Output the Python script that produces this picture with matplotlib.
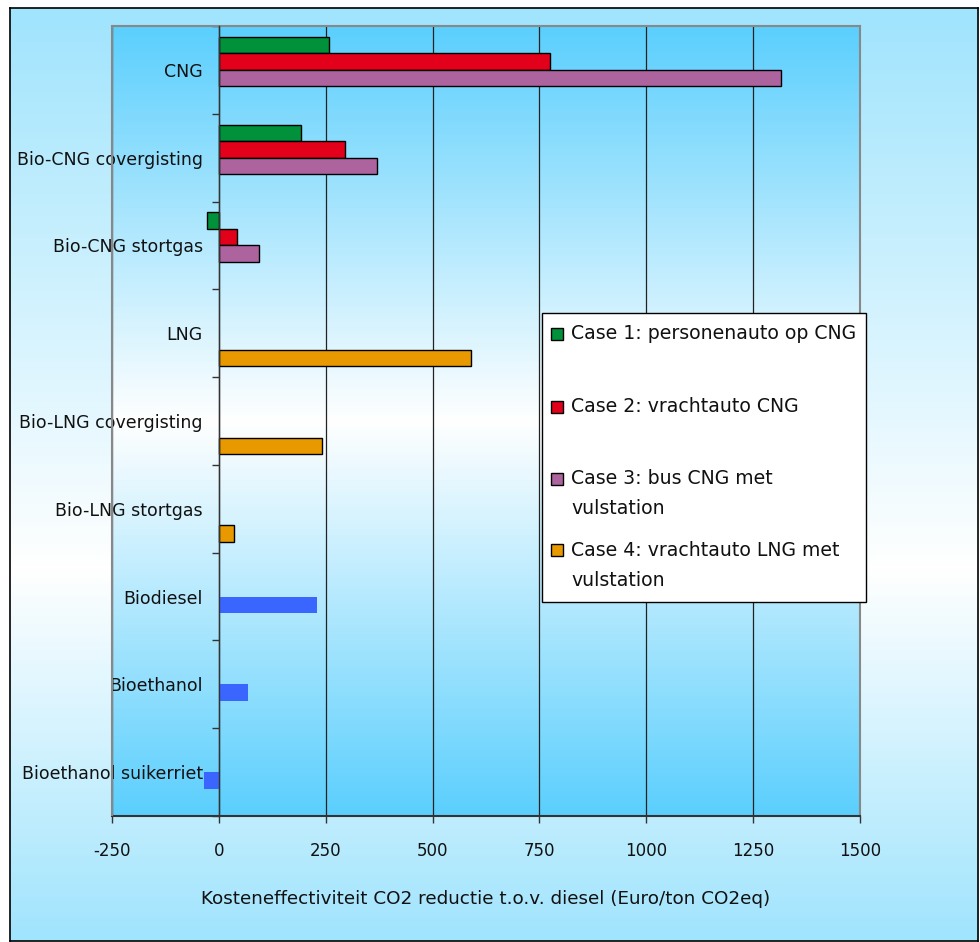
import numpy as np
import matplotlib
matplotlib.use("Agg")
import matplotlib.pyplot as plt
from matplotlib.colors import LinearSegmentedColormap
from matplotlib.patches import Rectangle

plt.rcParams['font.family'] = ['DejaVu Sans']

# ---- data -------------------------------------------------------------
categories = ["CNG", "Bio-CNG covergisting", "Bio-CNG stortgas", "LNG",
              "Bio-LNG covergisting", "Bio-LNG stortgas", "Biodiesel",
              "Bioethanol", "Bioethanol suikerriet"]
nan = np.nan
case1 = [258, 192, -27, nan, nan, nan, nan, nan, nan]
case2 = [775, 295, 43, nan, nan, nan, nan, nan, nan]
case3 = [1316, 369, 93, nan, nan, nan, nan, nan, nan]
case4 = [nan, nan, nan, 591, 241, 36, nan, nan, nan]
biobrandstof = [nan, nan, nan, nan, nan, nan, 229, 68, -35]

series_labels = [["Case 1: personenauto op CNG"],
                 ["Case 2: vrachtauto CNG"],
                 ["Case 3: bus CNG met", "vulstation"],
                 ["Case 4: vrachtauto LNG met", "vulstation"]]
series_colors = ["#00913a", "#e2001a", "#ad649e", "#e89900"]
bio_color = "#3a66ff"

x_ticks = [-250, 0, 250, 500, 750, 1000, 1250, 1500]
x_label = "Kosteneffectiviteit CO2 reductie t.o.v. diesel (Euro/ton CO2eq)"

# ---- layout helpers (pixel -> figure fraction) ------------------------
W, H = 980, 942
def fx(px):
    return px / W
def fy(py):
    return 1 - py / H

fig = plt.figure(figsize=(W / 100, H / 100), dpi=100)
fig.patch.set_facecolor("white")

# outer chart area with vertical gradient and black frame
bg = fig.add_axes([fx(10), fy(941), fx(978) - fx(10), fy(8) - fy(941)])
outer_cmap = LinearSegmentedColormap.from_list(
    "outer", [(0.0, "#a0e4fd"), (0.60, "#ffffff"), (1.0, "#a0e4fd")])
bg.imshow(np.linspace(0, 1, 256).reshape(-1, 1), cmap=outer_cmap,
          aspect="auto", extent=[0, 1, 0, 1])
bg.set_xlim(0, 1)
bg.set_ylim(0, 1)
bg.set_xticks([])
bg.set_yticks([])
for s in bg.spines.values():
    s.set_color("black")
    s.set_linewidth(1.2)

# plot area
ax = fig.add_axes([fx(112), fy(816), fx(860) - fx(112), fy(26) - fy(816)])
inner_cmap = LinearSegmentedColormap.from_list(
    "inner", [(0.0, "#5bcffd"), (0.5, "#ffffff"), (1.0, "#5bcffd")])
ax.imshow(np.linspace(0, 1, 256).reshape(-1, 1), cmap=inner_cmap,
          aspect="auto", extent=[0, 1, 0, 1], transform=ax.transAxes,
          zorder=0)

y = np.arange(len(categories))
slot = 0.188
all_series = [case1, case2, case3, case4]
for k, (vals, col) in enumerate(zip(all_series, series_colors)):
    ax.barh(y + (k - 1.5) * slot, vals, height=slot, color=col,
            edgecolor="black", linewidth=1.0, zorder=2)
ax.barh(y + 0.5 * slot, biobrandstof, height=slot, color=bio_color,
        edgecolor="none", zorder=2)

ax.set_xlim(-250, 1500)
ax.set_ylim(len(categories) - 0.5, -0.5)
ax.set_xticks(x_ticks)
ax.set_xticklabels([str(t) for t in x_ticks])
ax.tick_params(axis="x", direction="out", length=5, width=1.0,
               color="#333333", pad=14, labelsize=12, labelcolor="#111111")

ax.set_yticks(y)
ax.set_yticklabels(categories)
ax.set_yticks(np.arange(len(categories) + 1) - 0.5, minor=True)
ax.tick_params(axis="y", which="major", length=0, pad=11.5,
               labelsize=12.5, labelcolor="#111111")
ax.tick_params(axis="y", which="minor", direction="out", length=5,
               width=1.0, color="#333333")

ax.grid(axis="x", color="#222222", linewidth=0.9, zorder=1)
ax.set_axisbelow(True)

ax.spines["left"].set_position(("data", 0))
ax.spines["left"].set_color("#333333")
ax.spines["left"].set_linewidth(1.0)
ax.spines["left"].set_zorder(3)
for side in ("top", "right"):
    ax.spines[side].set_color("#888888")
    ax.spines[side].set_linewidth(1.5)
ax.spines["bottom"].set_color("#333333")
ax.spines["bottom"].set_linewidth(1.5)
ax.add_patch(Rectangle((0, 0), 0.0001, 1, transform=ax.transAxes,
                       fill=False, edgecolor="#888888", linewidth=1.5,
                       clip_on=False, zorder=3))

ax.set_xlabel(x_label, fontsize=13.2, color="#111111", labelpad=21)

# legend box
fig.patches.append(Rectangle((fx(542), fy(602)), fx(866) - fx(542),
                             fy(313) - fy(602), transform=fig.transFigure,
                             facecolor="white", edgecolor="black",
                             linewidth=1.0, zorder=5))
first_line_y = [334, 407, 479, 550]
for lines, col, ly in zip(series_labels, series_colors, first_line_y):
    fig.patches.append(Rectangle((fx(551), fy(ly + 6)), fx(563) - fx(551),
                                 fy(ly - 6) - fy(ly + 6),
                                 transform=fig.transFigure, facecolor=col,
                                 edgecolor="black", linewidth=1.0, zorder=6))
    for j, line in enumerate(lines):
        fig.text(fx(571), fy(ly + 30 * j), line, fontsize=13.6,
                 color="#111111", ha="left", va="center", zorder=7,
                 transform=fig.transFigure)

fig.savefig("out.png", dpi=100)
